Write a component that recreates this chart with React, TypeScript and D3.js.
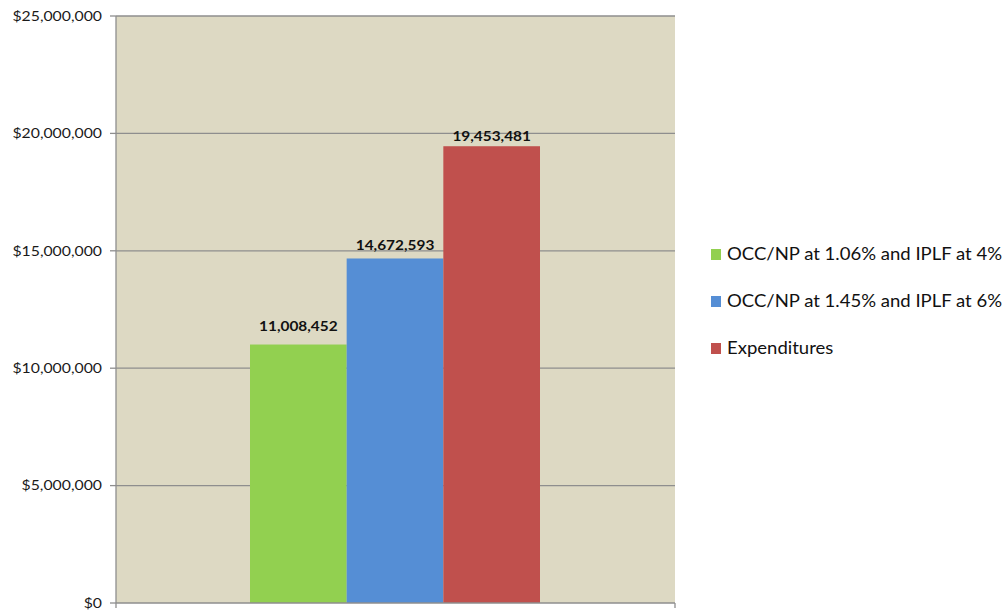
import React from "react";
import * as d3 from "d3";

const seriesNames = [
  "OCC/NP at 1.06% and IPLF at 4%",
  "OCC/NP at 1.45% and IPLF at 6%",
  "Expenditures",
];
const seriesValues = [11008452, 14672593, 19453481];
const seriesColors = ["#92D050", "#558ED5", "#C0504D"];
const yTicks = [0, 5000000, 10000000, 15000000, 20000000, 25000000];

// layout only (gap between bar top and its label baseline)
const labelGaps = [14, 8.5, 5.5];

const W = 1008;
const H = 613;
const left = 116;
const right = 675;
const top = 16;
const bottom = 603;

export default function App() {
  const y = d3.scaleLinear().domain([0, 25000000]).range([bottom, top]);
  const x = d3.scaleBand<string>().domain(seriesNames).range([250, 540]).padding(0);
  const fmtAxis = (v: number) => "$" + d3.format(",")(v);
  const fmtLabel = d3.format(",");
  const font = "Lato, 'Liberation Sans', sans-serif";
  const grid = "#8E8E8E";

  return (
    <svg
      width={W}
      height={H}
      style={{ position: "absolute", left: 0, top: 0, fontFamily: font }}
    >
      <rect x={0} y={0} width={W} height={H} fill="#ffffff" />
      <rect x={left} y={top} width={right - left} height={bottom - top} fill="#DDD9C3" />
      {yTicks.map((t) => (
        <g key={t}>
          {t > 0 && (
            <line x1={left} x2={right} y1={y(t)} y2={y(t)} stroke={grid} strokeWidth={1.3} />
          )}
          <line x1={left - 6} x2={left} y1={y(t)} y2={y(t)} stroke={grid} strokeWidth={1.3} />
          <text
            transform={`translate(102, ${y(t)}) scale(1.17, 1)`}
            dy="0.35em"
            textAnchor="end"
            fontSize={13.5}
            fill="#1a1a1a"
          >
            {fmtAxis(t)}
          </text>
        </g>
      ))}
      {seriesNames.map((n, i) => (
        <g key={n}>
          <rect
            x={x(n)}
            y={y(seriesValues[i])}
            width={x.bandwidth()}
            height={bottom - y(seriesValues[i])}
            fill={seriesColors[i]}
          />
          <text
            transform={`translate(${(x(n) as number) + x.bandwidth() / 2}, ${
              y(seriesValues[i]) - labelGaps[i]
            }) scale(1.1, 1)`}
            textAnchor="middle"
            fontSize={14}
            fontWeight="bold"
            fill="#111"
          >
            {fmtLabel(seriesValues[i])}
          </text>
        </g>
      ))}
      <line x1={left} x2={left} y1={top} y2={bottom + 5} stroke={grid} strokeWidth={1.3} />
      <line x1={left} x2={right} y1={bottom} y2={bottom} stroke={grid} strokeWidth={1.3} />
      <line x1={right} x2={right} y1={bottom} y2={bottom + 5} stroke={grid} strokeWidth={1.3} />
      {seriesNames.map((n, i) => (
        <g key={"l" + n} transform={`translate(711, ${254.5 + i * 47})`}>
          <rect x={0} y={-5.5} width={10} height={11} fill={seriesColors[i]} />
          <text
            transform="translate(16, 0) scale(1.09, 1)"
            dy="0.35em"
            fontSize={17}
            fill="#111"
          >
            {n}
          </text>
        </g>
      ))}
    </svg>
  );
}
